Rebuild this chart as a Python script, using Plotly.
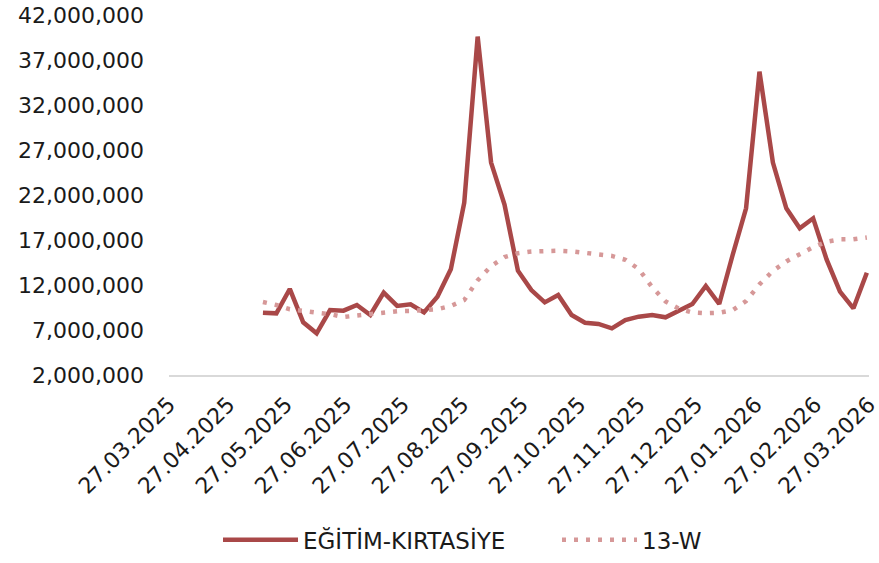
import plotly.graph_objects as go

dates = [
    "2025-05-15", "2025-05-22", "2025-05-29", "2025-06-05", "2025-06-12", "2025-06-19",
    "2025-06-26", "2025-07-03", "2025-07-10", "2025-07-17", "2025-07-24", "2025-07-31",
    "2025-08-07", "2025-08-14", "2025-08-21", "2025-08-28", "2025-09-04", "2025-09-11",
    "2025-09-18", "2025-09-25", "2025-10-02", "2025-10-09", "2025-10-16", "2025-10-23",
    "2025-10-30", "2025-11-06", "2025-11-13", "2025-11-20", "2025-11-27", "2025-12-04",
    "2025-12-11", "2025-12-18", "2025-12-25", "2026-01-01", "2026-01-08", "2026-01-15",
    "2026-01-22", "2026-01-29", "2026-02-05", "2026-02-12", "2026-02-19", "2026-02-26",
    "2026-03-05", "2026-03-12", "2026-03-19", "2026-03-26",
]

egitim = [
    8920000, 8850000, 11560000, 7860000, 6630000, 9220000, 9150000, 9780000, 8670000,
    11150000, 9670000, 9850000, 8960000, 10700000, 13740000, 21150000, 39600000,
    25600000, 20950000, 13590000, 11440000, 10070000, 10890000, 8670000, 7810000,
    7670000, 7190000, 8110000, 8480000, 8670000, 8410000, 9220000, 9890000, 11890000,
    9890000, 15330000, 20520000, 35700000, 25600000, 20520000, 18300000, 19410000,
    14850000, 11260000, 9410000, 13370000,
]

w13 = [
    10110000, 9780000, 9310000, 9070000, 8920000, 8760000, 8440000, 8610000, 8780000,
    8970000, 9080000, 9110000, 9170000, 9310000, 9670000, 10330000, 12520000, 14100000,
    15110000, 15530000, 15720000, 15810000, 15810000, 15740000, 15600000, 15470000,
    15230000, 14810000, 13780000, 11760000, 10170000, 9360000, 8940000, 8860000,
    8910000, 9200000, 10220000, 12070000, 13560000, 14620000, 15440000, 16200000,
    16800000, 17070000, 17080000, 17280000,
]

tick_dates = [
    "2025-03-27", "2025-04-27", "2025-05-27", "2025-06-27", "2025-07-27", "2025-08-27",
    "2025-09-27", "2025-10-27", "2025-11-27", "2025-12-27", "2026-01-27", "2026-02-27",
    "2026-03-27",
]
tick_labels = [
    "27.03.2025", "27.04.2025", "27.05.2025", "27.06.2025", "27.07.2025", "27.08.2025",
    "27.09.2025", "27.10.2025", "27.11.2025", "27.12.2025", "27.01.2026", "27.02.2026",
    "27.03.2026",
]

y_ticks = [2000000, 7000000, 12000000, 17000000, 22000000, 27000000, 32000000, 37000000, 42000000]

FONT = "DejaVu Sans"
TXT = "#1a1a1a"

fig = go.Figure()
fig.add_trace(go.Scatter(
    x=dates, y=egitim, name="EĞİTİM-KIRTASİYE", mode="lines",
    line=dict(color="#A94848", width=4.5),
))
fig.add_trace(go.Scatter(
    x=dates, y=w13, name="13-W", mode="lines",
    line=dict(color="#D69898", width=4.5, dash="4px,8px"),
))

fig.update_layout(
    width=879, height=563,
    margin=dict(l=169, r=10, t=15, b=188, autoexpand=False),
    paper_bgcolor="white", plot_bgcolor="white",
    font=dict(family=FONT, size=22, color=TXT),
    showlegend=True,
    legend=dict(
        orientation="h", x=0.07, xanchor="left",
        yref="container", y=0.041, yanchor="middle",
        font=dict(family=FONT, size=23, color=TXT),
        itemwidth=75, entrywidth=249, traceorder="normal",
    ),
    xaxis=dict(
        type="date",
        range=["2025-03-27", "2026-03-27 03:00"],
        tickvals=tick_dates, ticktext=tick_labels,
        tickangle=-45, automargin=False, ticklabeloverflow="allow",
        showgrid=False, zeroline=False,
        showline=True, linecolor="#d9d9d9", linewidth=2,
        ticks="", ticklabelstandoff=6,
        tickfont=dict(family=FONT, size=22, color=TXT),
    ),
    yaxis=dict(
        range=[2000000, 42000000], automargin=False, ticklabeloverflow="allow",
        tickvals=y_ticks, tickformat=",d",
        showgrid=False, zeroline=False, showline=False,
        ticks="", ticklabelstandoff=24,
        tickfont=dict(family=FONT, size=22, color=TXT),
    ),
)

fig.write_html(
    "out.html",
    config={"displayModeBar": False},
    post_script="document.body.style.margin='0';document.body.style.overflow='hidden';",
)
